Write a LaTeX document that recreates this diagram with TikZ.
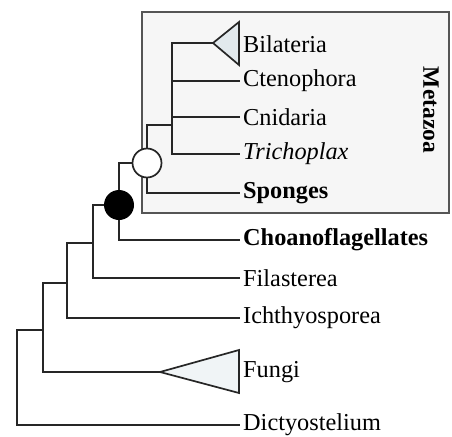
\documentclass[tikz,border=0pt]{standalone}
\usepackage{fontspec}
\setmainfont{Liberation Serif}
\usepackage{tikz}
\usetikzlibrary{arrows.meta,positioning,calc}
\definecolor{boxfill}{RGB}{246,246,246}
\definecolor{boxline}{RGB}{85,85,85}
\definecolor{cladefill}{RGB}{226,233,237}
\tikzset{
  branch/.style={line width=2pt, black!85, line cap=rect},
  taxon/.style={anchor=west, inner xsep=4pt, inner ysep=0pt,
    font=\fontsize{24.3}{29}\selectfont},
  clade/.style={draw=black!85, line width=1.7pt, line join=miter, fill=cladefill},
  groupbox/.style={draw=boxline, line width=2pt, fill=boxfill},
  nodedot/.style={line width=1.7pt, draw=black!85},
}
\begin{document}
\begin{tikzpicture}[x=1pt, y=-1pt]
    \useasboundingbox (0,0) rectangle (452,436);
    % --- Metazoa box ---
    \draw[groupbox] (142,12) rectangle (449,213);
    \node[rotate=-90, font=\fontsize{23.5}{28}\selectfont\bfseries] (metazoa) at (431,110) {Metazoa};
    % --- internal nodes ---
    \coordinate (root) at (17,330);
    \coordinate (opis) at (43,330);
    \coordinate (hol) at (67,283);
    \coordinate (fil) at (93,243);
    \coordinate (choa) at (119,205);
    \coordinate (meta) at (147,163);
    \coordinate (eume) at (172,125);
    \coordinate (bilapex) at (213,43);
    \coordinate (fungapex) at (160,372);
    % --- leaves ---
    \node[taxon] (bila) at (239,44) {Bilateria};
    \node[taxon] (cteno) at (239,81) {Ctenophora};
    \node[taxon] (cnid) at (239,117) {Cnidaria};
    \node[taxon] (trich) at (239,154) {\itshape Trichoplax};
    \node[taxon] (spong) at (239,193) {\bfseries Sponges};
    \node[taxon] (choano) at (239,240) {\bfseries Choanoflagellates};
    \node[taxon] (filas) at (239,278) {Filasterea};
    \node[taxon] (ichth) at (239,318) {Ichthyosporea};
    \node[taxon] (fungi) at (239,372) {Fungi};
    \node[taxon] (dicty) at (239,425) {Dictyostelium};
    % --- branches ---
    \draw[branch] (root) |- (dicty.west);
    \draw[branch] (root) -- (opis);
    \draw[branch] (opis) |- (fungapex);
    \draw[branch] (opis) |- (hol);
    \draw[branch] (hol) |- (ichth.west);
    \draw[branch] (hol) |- (fil);
    \draw[branch] (fil) |- (filas.west);
    \draw[branch] (fil) |- (choa);
    \draw[branch] (choa) |- (choano.west);
    \draw[branch] (choa) |- (meta);
    \draw[branch] (meta) |- (spong.west);
    \draw[branch] (meta) |- (eume);
    \draw[branch] (eume) |- (bilapex);
    \draw[branch] (eume) |- (cteno.west);
    \draw[branch] (eume) |- (cnid.west);
    \draw[branch] (eume) |- (trich.west);
    % --- collapsed clades ---
    \draw[clade] (bilapex) -- (239,22) -- (239,65) -- cycle;
    \draw[clade, fill=cladefill!50] (fungapex) -- (239,350) -- (239,393) -- cycle;
    % --- node markers ---
    \fill[black] (choa) circle (15pt);
    \filldraw[nodedot, fill=white] (meta) circle (14.5pt);
  \end{tikzpicture}
\end{document}
